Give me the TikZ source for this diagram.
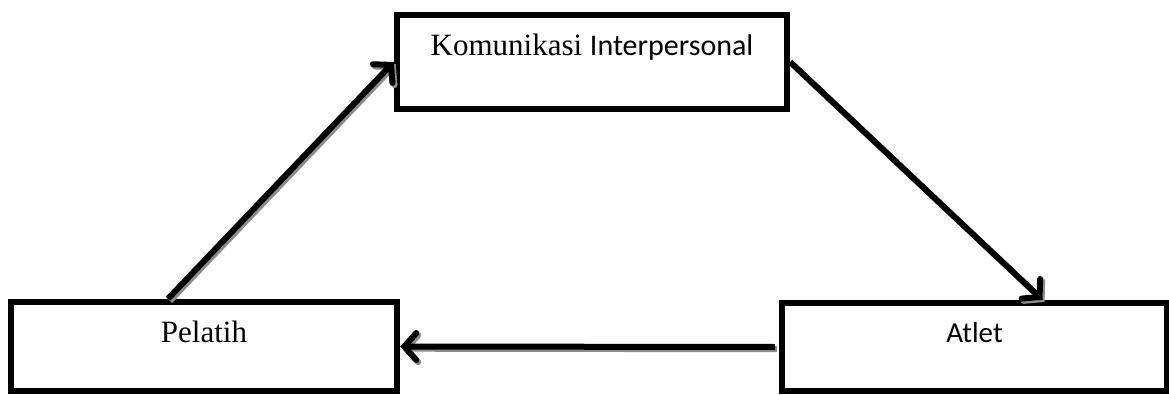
\documentclass[tikz,border=0pt]{standalone}
\usepackage{fontspec}
\setmainfont{Liberation Serif}
\newfontfamily\calib{Carlito}
\usetikzlibrary{arrows.meta}
\tikzset{
  boxst/.style={draw=black, line width=6.5pt, fill=white, inner sep=0pt},
  serifTxt/.style={anchor=base, inner sep=0pt, font=\fontsize{31}{36}\selectfont},
  sansTxt/.style={anchor=base, inner sep=0pt, font=\calib\fontsize{29}{34}\selectfont},
  flow/.style={line width=6pt, -{Straight Barb[length=12pt,width=27pt,line cap=round]}},
  flowshadow/.style={flow, draw=black!45, transform canvas={shift={(2pt,-2.2pt)}}}
}
\begin{document}
\begin{tikzpicture}[x=1pt,y=-1pt]
  \useasboundingbox (0,0) rectangle (1169,394);

  % the three boxes
  \node[boxst, minimum width=390pt, minimum height=94pt] (kom) at (592,62) {};
  \node[boxst, minimum width=386pt, minimum height=89pt] (pel) at (204,346.5) {};
  \node[boxst, minimum width=385pt, minimum height=88pt] (atl) at (974.5,347) {};

  % box captions
  \node[serifTxt] (komtxt) at ([yshift=-44pt]kom.north)
    {Komunikasi {\calib\fontsize{30}{34}\selectfont Interpersonal}};
  \node[serifTxt] (peltxt) at ([yshift=-44pt]pel.north) {Pelatih};
  \node[sansTxt] (atltxt) at ([yshift=-43pt]atl.north) {Atlet};

  % connector end points on the box borders
  \coordinate (pelout) at ([xshift=-36pt]pel.north);
  \coordinate (atlin) at ([xshift=68pt]atl.north);

  % shadows under the arrows
  \draw[flowshadow] (pelout) -- (kom.west);
  \draw[flowshadow] (kom.east) -- (atlin);
  \draw[flowshadow, shorten <=4pt] (atl.west) -- (pel.east);

  % arrows
  \draw[flow] (pelout) -- (kom.west);
  \draw[flow] (kom.east) -- (atlin);
  \draw[flow, shorten <=4pt] (atl.west) -- (pel.east);
\end{tikzpicture}
\end{document}
